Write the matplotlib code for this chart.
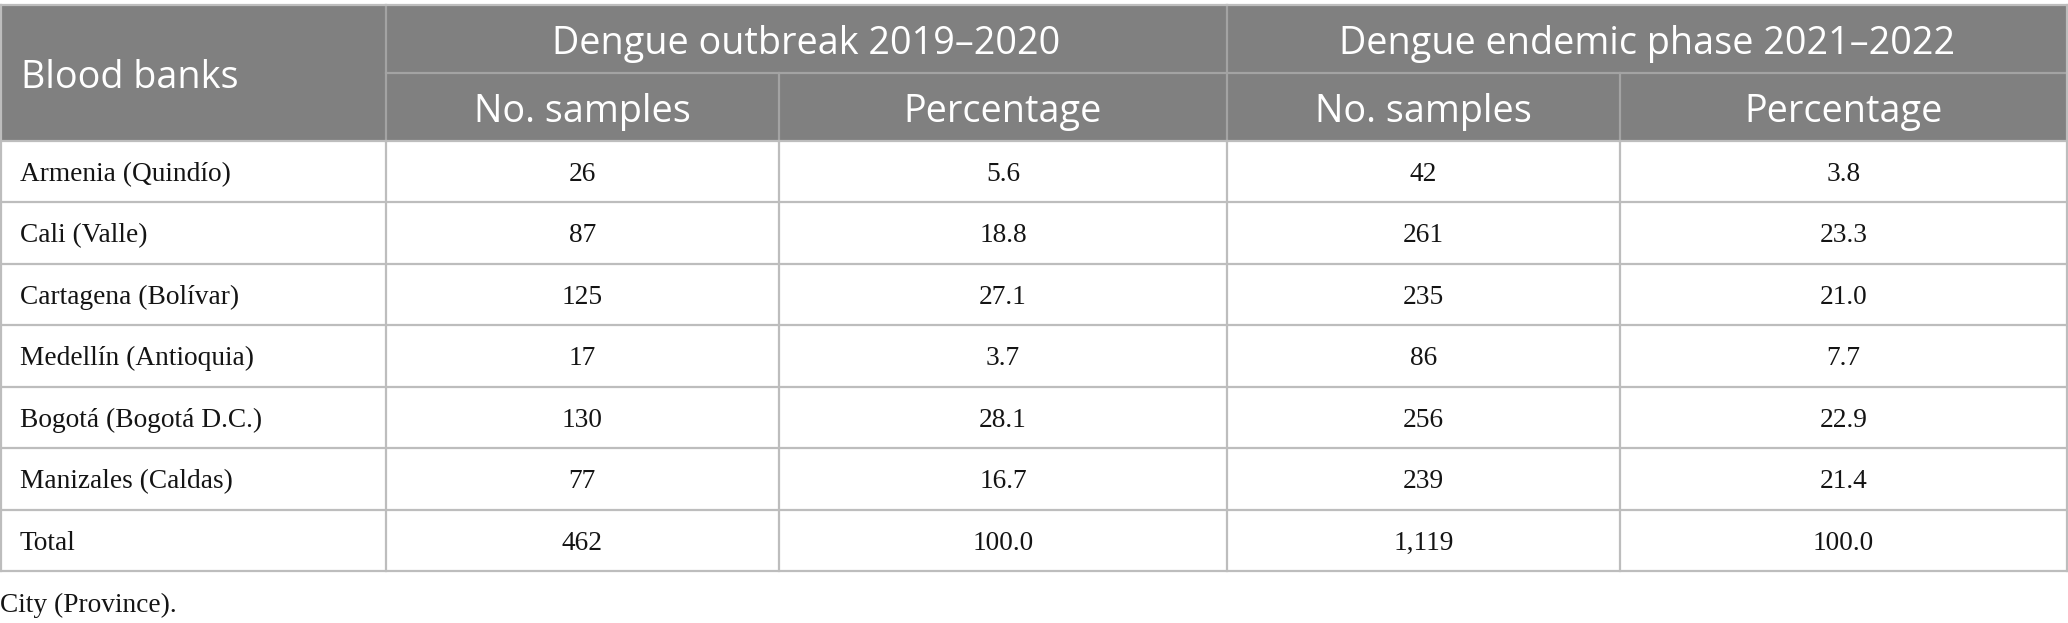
import matplotlib
matplotlib.use("Agg")
import matplotlib.pyplot as plt

blood_banks = ["Armenia (Quindío)", "Cali (Valle)", "Cartagena (Bolívar)",
               "Medellín (Antioquia)", "Bogotá (Bogotá D.C.)", "Manizales (Caldas)", "Total"]
outbreak_samples = ["26", "87", "125", "17", "130", "77", "462"]
outbreak_pct = ["5.6", "18.8", "27.1", "3.7", "28.1", "16.7", "100.0"]
endemic_samples = ["42", "261", "235", "86", "256", "239", "1,119"]
endemic_pct = ["3.8", "23.3", "21.0", "7.7", "22.9", "21.4", "100.0"]
group_headers = ["Dengue outbreak 2019–2020", "Dengue endemic phase 2021–2022"]
sub_headers = ["No. samples", "Percentage", "No. samples", "Percentage"]
first_header = "Blood banks"
footnote = "City (Province)."

W, H = 2068, 623
fig = plt.figure(figsize=(W / 100, H / 100), dpi=100)
ax = fig.add_axes([0, 0, 1, 1])
ax.set_xlim(0, W)
ax.set_ylim(H, 0)
ax.axis("off")

cols = [1, 385.5, 779, 1227, 1620, 2067]
top, h1, h2 = 5, 72.7, 140.7
bottom = 571
nrows = len(blood_banks)
rh = (bottom - h2) / nrows

hdr_bg = "#808080"
hdr_line = "#a3a3a3"
body_line = "#bdbdbd"
head_font = ["Open Sans", "DejaVu Sans"]
body_font = ["Liberation Serif", "DejaVu Serif"]
hs = 27.2
bs = 19.7
hdy = 5  # header text baseline tweak

ax.add_patch(plt.Rectangle((cols[0], top), cols[-1] - cols[0], h2 - top, color=hdr_bg, lw=0))

lw = 1.6
ax.plot([cols[1], cols[-1]], [h1, h1], color=hdr_line, lw=lw)
for x in cols[1:-1]:
    y0 = top if x in (cols[1], cols[3]) else h1
    ax.plot([x, x], [y0, h2], color=hdr_line, lw=lw)
ax.plot([cols[0], cols[-1]], [top, top], color=body_line, lw=lw)

for i in range(nrows + 1):
    y = h2 + i * rh
    ax.plot([cols[0], cols[-1]], [y, y], color=body_line, lw=lw)
for x in cols[1:-1]:
    ax.plot([x, x], [h2, bottom], color=body_line, lw=lw)
ax.plot([cols[0], cols[0]], [top, bottom], color=body_line, lw=lw)
ax.plot([cols[-1], cols[-1]], [top, bottom], color=body_line, lw=lw)

ax.text(21, (top + h2) / 2 + hdy, first_header, color="white", fontsize=hs, family=head_font,
        ha="left", va="center")
ax.text((cols[1] + cols[3]) / 2, (top + h1) / 2 + hdy, group_headers[0], color="white",
        fontsize=hs, family=head_font, ha="center", va="center")
ax.text((cols[3] + cols[5]) / 2, (top + h1) / 2 + hdy, group_headers[1], color="white",
        fontsize=hs, family=head_font, ha="center", va="center")
for j, s in enumerate(sub_headers):
    ax.text((cols[j + 1] + cols[j + 2]) / 2, (h1 + h2) / 2 + hdy, s, color="white",
            fontsize=hs, family=head_font, ha="center", va="center")

for i in range(nrows):
    yc = h2 + (i + 0.5) * rh
    ax.text(20, yc, blood_banks[i], fontsize=bs, family=body_font, ha="left",
            va="center_baseline", color="#141414")
    for j, colvals in enumerate([outbreak_samples, outbreak_pct, endemic_samples, endemic_pct]):
        ax.text((cols[j + 1] + cols[j + 2]) / 2, yc, colvals[i], fontsize=bs,
                family=body_font, ha="center", va="center_baseline", color="#141414")

ax.text(0, 602, footnote, fontsize=bs, family=body_font, ha="left",
        va="center_baseline", color="#141414")

fig.savefig("out.png", dpi=100, facecolor="white")
